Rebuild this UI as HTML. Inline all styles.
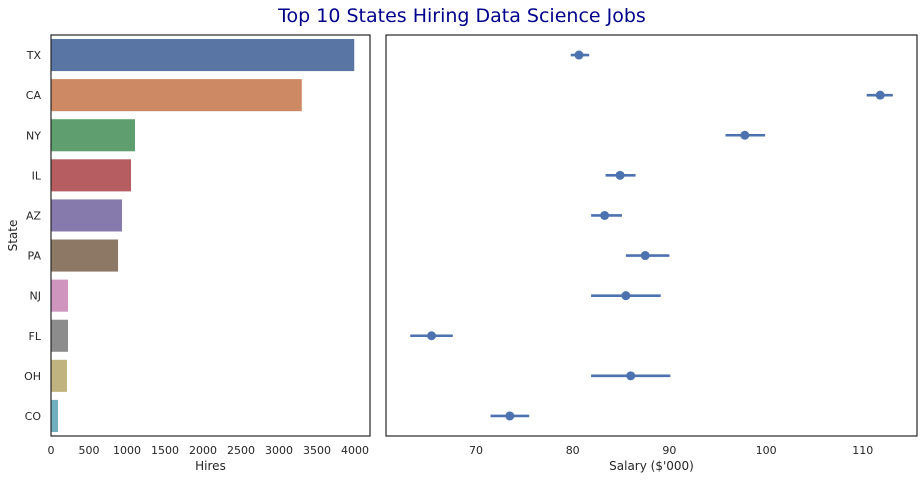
<!DOCTYPE html>
<html><head><meta charset="utf-8"><style>
body{margin:0;background:#fff;font-family:"Liberation Sans","DejaVu Sans",sans-serif;}
svg text{font-family:"DejaVu Sans","Liberation Sans",sans-serif;}
</style></head><body>
<svg id="c" width="924" height="480" xmlns="http://www.w3.org/2000/svg">
<text x="462" y="22" text-anchor="middle" font-size="19" fill="#00008b">Top 10 States Hiring Data Science Jobs</text>
<g id="left"></g><g id="right"></g>
</svg>
<script>
const states=["TX","CA","NY","IL","AZ","PA","NJ","FL","OH","CO"];
const hires=[3990,3300,1105,1053,934,882,224,224,210,92];
const salary=[80.65,111.8,97.8,84.9,83.3,87.5,85.5,65.4,86,73.5];
const ciLow=[79.8,110.4,95.8,83.4,81.9,85.5,81.9,63.2,81.9,71.5];
const ciHigh=[81.7,113.1,99.9,86.5,85.1,90,89.1,67.6,90.1,75.5];
const hireTicks=[0,500,1000,1500,2000,2500,3000,3500,4000];
const salTicks=[70,80,90,100,110];
const colors=["#5975a4","#cc8963","#5f9e6e","#b55d60","#857aab","#8d7866","#d095bf","#8c8c8c","#c1b37f","#71aec0"];
const NS="http://www.w3.org/2000/svg";
function mk(p,t,a,txt){const e=document.createElementNS(NS,t);for(const k in a)e.setAttribute(k,a[k]);if(txt!==undefined)e.textContent=txt;p.appendChild(e);return e;}
const plotTop=35,plotBot=436,band=(plotBot-plotTop)/states.length;
const yPos=i=>plotTop+band*(i+0.5);
const L=document.getElementById('left');
const lx0=51,lx1=370,xl=v=>lx0+v*(304/4000);
states.forEach((s,i)=>{
 const r=mk(L,'rect',{x:lx0,y:yPos(i)-band*0.4,width:xl(hires[i])-lx0,height:band*0.8,fill:colors[i]});
 
 
 const t=mk(L,'text',{x:lx0-10,y:yPos(i)+4,'text-anchor':'end','font-size':11,fill:'#262626'},s);
 
 
});
hireTicks.forEach(v=>{
 const t=mk(L,'text',{x:xl(v),y:plotBot+18,'text-anchor':'middle','font-size':11,fill:'#262626'},v);
 
 
});
const lf=mk(L,'rect',{x:lx0,y:plotTop,width:lx1-lx0,height:plotBot-plotTop,fill:'none',stroke:'#262626','stroke-width':1.2});


const xt=mk(L,'text',{x:(lx0+lx1)/2,y:470,'text-anchor':'middle','font-size':12,fill:'#262626'},'Hires');


const yt=mk(L,'text',{x:17,y:(plotTop+plotBot)/2,'text-anchor':'middle','font-size':12,fill:'#262626',transform:`rotate(-90 17 ${(plotTop+plotBot)/2})`},'State');


const R=document.getElementById('right');
const rx0=386,rx1=917,xr=v=>476+(v-70)*9.67;
states.forEach((s,i)=>{
 const l=mk(R,'line',{x1:xr(ciLow[i]),x2:xr(ciHigh[i]),y1:yPos(i),y2:yPos(i),stroke:'#4c72b0','stroke-width':2.6});
 
 
 const c=mk(R,'circle',{cx:xr(salary[i]),cy:yPos(i),r:4.5,fill:'#4c72b0'});
 
 
});
salTicks.forEach(v=>{
 const t=mk(R,'text',{x:xr(v),y:plotBot+18,'text-anchor':'middle','font-size':11,fill:'#262626'},v);
 
 
});
const rf=mk(R,'rect',{x:rx0,y:plotTop,width:rx1-rx0,height:plotBot-plotTop,fill:'none',stroke:'#262626','stroke-width':1.2});


const rt=mk(R,'text',{x:(rx0+rx1)/2,y:470,'text-anchor':'middle','font-size':12,fill:'#262626'},"Salary ($'000)");


</script>
</body></html>
